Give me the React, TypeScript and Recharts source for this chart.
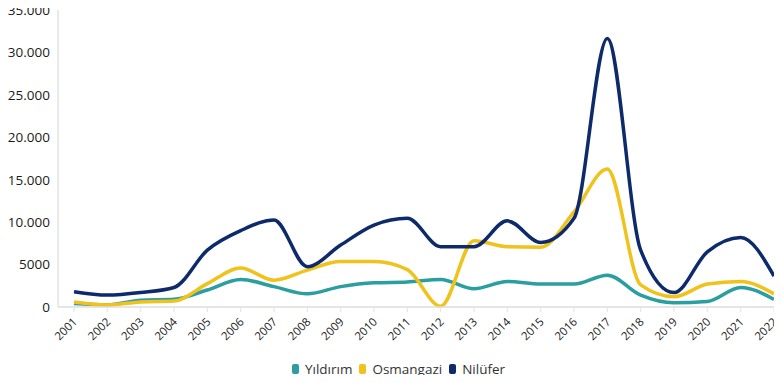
import { LineChart, Line, XAxis, YAxis, Legend } from 'recharts'

const years = [
  '2001', '2002', '2003', '2004', '2005', '2006', '2007', '2008', '2009', '2010', '2011',
  '2012', '2013', '2014', '2015', '2016', '2017', '2018', '2019', '2020', '2021', '2022',
]
const yildirim = [
  400, 250, 800, 900, 2000, 3250, 2400, 1550, 2400, 2850, 2950,
  3250, 2150, 3000, 2700, 2700, 3750, 1400, 500, 650, 2300, 900,
]
const osmangazi = [
  600, 250, 600, 700, 2750, 4600, 3150, 4350, 5350, 5350, 4400,
  100, 7800, 7100, 7050, 11200, 16250, 2600, 1200, 2700, 3000, 1550,
]
const nilufer = [
  1800, 1400, 1700, 2300, 6700, 9000, 10250, 4750, 7300, 9650, 10450,
  7100, 7100, 10150, 7600, 10450, 31650, 6700, 1700, 6500, 8200, 3650,
]
const yTicks = [0, 5000, 10000, 15000, 20000, 25000, 30000, 35000]

const SERIES = [
  { key: 'Yıldırım', color: '#2a9ea0', values: yildirim },
  { key: 'Osmangazi', color: '#efc21c', values: osmangazi },
  { key: 'Nilüfer', color: '#0d2a6b', values: nilufer },
]

const data = years.map((year, i) => {
  const row: Record<string, string | number> = { year }
  SERIES.forEach((s) => {
    row[s.key] = s.values[i]
  })
  return row
})

const FONT = '"Open Sans", "Noto Sans", sans-serif'

// 5000 stays ungrouped, 10.000 and up use a dot
const fmtY = (v: number) =>
  v < 10000 ? String(v) : v.toLocaleString('de-DE')

function YearTick(props: any) {
  const { x, y, payload } = props
  return (
    <g transform={`translate(${x},${y})`}>
      <text
        x={4}
        y={8.5}
        textAnchor="end"
        transform="rotate(-45 4 8.5)"
        fill="#222"
        fontSize={11.5}
        fontFamily={FONT}
      >
        {payload.value}
      </text>
    </g>
  )
}

function LegendBox() {
  return (
    <div
      style={{
        display: 'flex',
        justifyContent: 'center',
        alignItems: 'center',
        paddingLeft: 22,
        fontFamily: FONT,
        fontSize: 13.5,
        color: '#333',
      }}
    >
      {SERIES.map((s) => (
        <span key={s.key} style={{ display: 'flex', alignItems: 'center', marginRight: 7 }}>
          <span
            style={{
              display: 'inline-block',
              width: 7,
              height: 10,
              borderRadius: 2,
              background: s.color,
              marginRight: 6,
            }}
          />
          {s.key}
        </span>
      ))}
    </div>
  )
}

export default function App() {
  return (
    <div style={{ margin: -8, background: '#fff' }}>
      <LineChart
        width={782}
        height={383}
        data={data}
        margin={{ top: 10, right: 0, bottom: 0, left: 0 }}
      >
        <XAxis
          dataKey="year"
          height={76}
          interval={0}
          padding={{ left: 16, right: 8 }}
          axisLine={{ stroke: '#dcdcdc', strokeWidth: 1.5 }}
          tickLine={{ stroke: '#e3e3e3' }}
          tickSize={5}
          tick={<YearTick />}
        />
        <YAxis
          width={58}
          domain={[0, 35000]}
          ticks={yTicks}
          tickFormatter={fmtY}
          axisLine={{ stroke: '#e3e3e3', strokeWidth: 1.5 }}
          tickLine={false}
          tickSize={0}
          tickMargin={8}
          tick={{ fill: '#1a1a1a', fontSize: 13.5, fontFamily: FONT }}
        />
        <Legend
          verticalAlign="middle"
          align="center"
          content={<LegendBox />}
          wrapperStyle={{ top: 360, left: 0, width: 782 }}
        />
        {SERIES.map((s) => (
          <Line
            key={s.key}
            type="monotone"
            dataKey={s.key}
            stroke={s.color}
            strokeWidth={3.5}
            dot={false}
            isAnimationActive={false}
          />
        ))}
      </LineChart>
    </div>
  )
}
